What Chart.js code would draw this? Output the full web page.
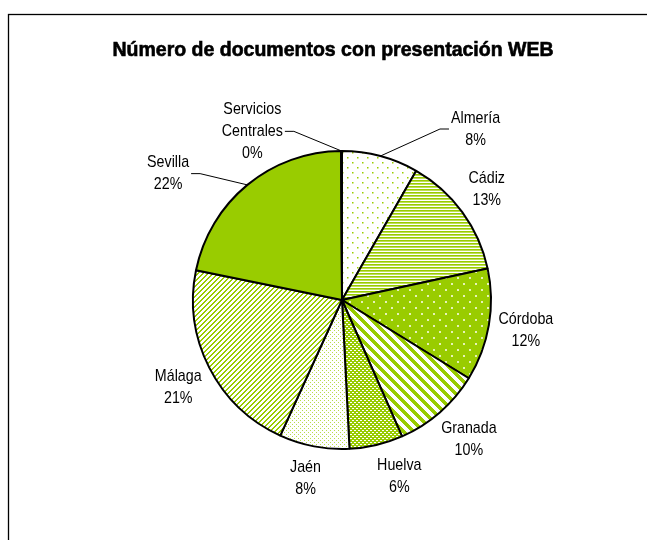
<!DOCTYPE html>
<html>
<head>
<meta charset="utf-8">
<script src="https://cdn.jsdelivr.net/npm/chart.js@4"></script>
<style>
  body { margin: 0; background: #fff; }
</style>
</head>
<body>
<canvas id="webChart" width="647" height="540"></canvas>
<script>
// Data (share of documents, %)
const provinces = ["Almería", "Cádiz", "Córdoba", "Granada", "Huelva", "Jaén", "Málaga", "Sevilla", "Servicios Centrales"];
const shares = [8.3, 13.3, 12.2, 9.6, 5.8, 7.6, 21.4, 21.7, 0.1];
const chartTitle = "Número de documentos con presentación WEB";

const GREEN = "#99cc00";
const labelFont = "17px 'Liberation Sans', Arial, sans-serif";
const narrow = 0.84; // squeeze the text to look like Arial Narrow

// labels moved away from the pie with a leader line: [angle from top (deg), distance]
const callouts = { "Almería": [38, 217], "Sevilla": [306, 215], "Servicios Centrales": [332, 191] };
const labelNudge = { "Huelva": [10, 0], "Córdoba": [0, -6] };

// small tile patterns, like the Excel fills
function makePattern(w, h, bg, paint) {
  const c = document.createElement("canvas");
  c.width = w;
  c.height = h;
  const g = c.getContext("2d");
  g.fillStyle = bg;
  g.fillRect(0, 0, w, h);
  g.fillStyle = GREEN;
  paint(g);
  return g.createPattern(c, "repeat");
}

const fills = [
  // sparse dots
  makePattern(10, 10, "#fff", (g) => { g.fillRect(2, 2, 1.5, 1.5); g.fillRect(7, 7, 1.5, 1.5); }),
  // narrow horizontal lines
  makePattern(3, 3, "#fff", (g) => { g.fillRect(0, 0, 3, 1); g.fillStyle = "#bddf55"; g.fillRect(0, 1, 3, 1); }),
  // green with white dots
  makePattern(12, 12, GREEN, (g) => { g.fillStyle = "#e6f3b8"; g.fillRect(1, 1, 2, 2); g.fillRect(7, 7, 2, 2); }),
  // wide downward diagonal
  makePattern(10, 10, "#fff", (g) => {
    for (let x = 0; x < 10; x++) for (let y = 0; y < 10; y++) if (((x - y + 20) % 10) < 5) g.fillRect(x, y, 1, 1);
  }),
  // small grid
  makePattern(4, 4, GREEN, (g) => { g.fillStyle = "#fff"; g.fillRect(0, 0, 2, 1); g.fillRect(2, 2, 2, 1); }),
  // dense dots
  makePattern(4, 4, "#fff", (g) => { g.fillStyle = "#b8dc4a"; g.fillRect(0, 0, 1, 1); g.fillRect(2, 2, 1, 1); }),
  // light upward diagonal
  makePattern(5, 5, "#fff", (g) => {
    for (let x = 0; x < 5; x++) for (let y = 0; y < 5; y++) if (((x + y) % 5) < 2) g.fillRect(x, y, 1, 1);
  }),
  GREEN,
  "#fff",
];

const framePlugin = {
  id: "frame",
  beforeDraw(chart) {
    const ctx = chart.ctx;
    ctx.save();
    ctx.fillStyle = "#fff";
    ctx.fillRect(0, 0, chart.width, chart.height);
    ctx.strokeStyle = "#000";
    ctx.lineWidth = 1.3;
    ctx.strokeRect(8.5, 14.5, 700, 600);
    // heavy title
    ctx.font = "bold 19.5px 'Liberation Sans', Arial, sans-serif";
    ctx.textAlign = "center";
    ctx.textBaseline = "middle";
    ctx.fillStyle = "#000";
    ctx.lineWidth = 0.6;
    ctx.fillText(chartTitle, 333, 51);
    ctx.strokeText(chartTitle, 333, 51);
    ctx.restore();
  },
};

function squeezedText(ctx, t, x, y) {
  ctx.save();
  ctx.translate(x, y);
  ctx.scale(narrow, 1);
  ctx.fillText(t, 0, 0);
  ctx.restore();
}

const sliceLabels = {
  id: "sliceLabels",
  afterDatasetsDraw(chart) {
    const ctx = chart.ctx;
    const meta = chart.getDatasetMeta(0);
    const data = chart.data.datasets[0].data;
    const total = data.reduce((a, b) => a + b, 0);
    const lh = 22;
    ctx.save();
    ctx.font = labelFont;
    ctx.fillStyle = "#000";
    ctx.textAlign = "center";
    ctx.textBaseline = "middle";
    meta.data.forEach((arc, i) => {
      const { x, y, startAngle, endAngle, outerRadius } = arc.getProps(["x", "y", "startAngle", "endAngle", "outerRadius"], true);
      const name = chart.data.labels[i];
      const lines = name.split(" ").concat([Math.round((data[i] / total) * 100) + "%"]);
      const w = Math.max(...lines.map((t) => ctx.measureText(t).width)) * narrow;
      const h = lines.length * lh;
      const mid = (startAngle + endAngle) / 2;
      const dx = Math.cos(mid), dy = Math.sin(mid);
      let cx, cy;
      if (callouts[name]) {
        const a = (callouts[name][0] - 90) * Math.PI / 180;
        cx = x + Math.cos(a) * callouts[name][1];
        cy = y + Math.sin(a) * callouts[name][1];
        // leader line
        const side = cx > x ? -1 : 1;
        const edge = cx + side * (w / 2 + 2);
        ctx.beginPath();
        ctx.moveTo(x + dx * outerRadius, y + dy * outerRadius);
        ctx.lineTo(edge + side * 9, cy);
        ctx.lineTo(edge, cy);
        ctx.strokeStyle = "#000";
        ctx.lineWidth = 1;
        ctx.stroke();
      } else {
        const r = outerRadius + 10;
        cx = x + dx * r + Math.sign(dx) * Math.sqrt(Math.abs(dx)) * w / 2;
        cy = y + dy * r + Math.sign(dy) * Math.sqrt(Math.abs(dy)) * h / 2;
        if (labelNudge[name]) {
          cx += labelNudge[name][0];
          cy += labelNudge[name][1];
        }
      }
      lines.forEach((t, k) => {
        squeezedText(ctx, t, cx, cy + (k - (lines.length - 1) / 2) * lh);
      });
    });
    ctx.restore();
  },
};

new Chart(document.getElementById("webChart").getContext("2d"), {
  type: "pie",
  data: {
    labels: provinces,
    datasets: [
      {
        data: shares,
        backgroundColor: fills,
        borderColor: "#000",
        borderWidth: 2,
      },
    ],
  },
  options: {
    responsive: false,
    animation: false,
    layout: { padding: { top: 150, bottom: 90, left: 100, right: 63 } },
    plugins: {
      legend: { display: false },
      tooltip: { enabled: false },
      title: { display: false },
    },
  },
  plugins: [framePlugin, sliceLabels],
});
</script>
</body>
</html>
